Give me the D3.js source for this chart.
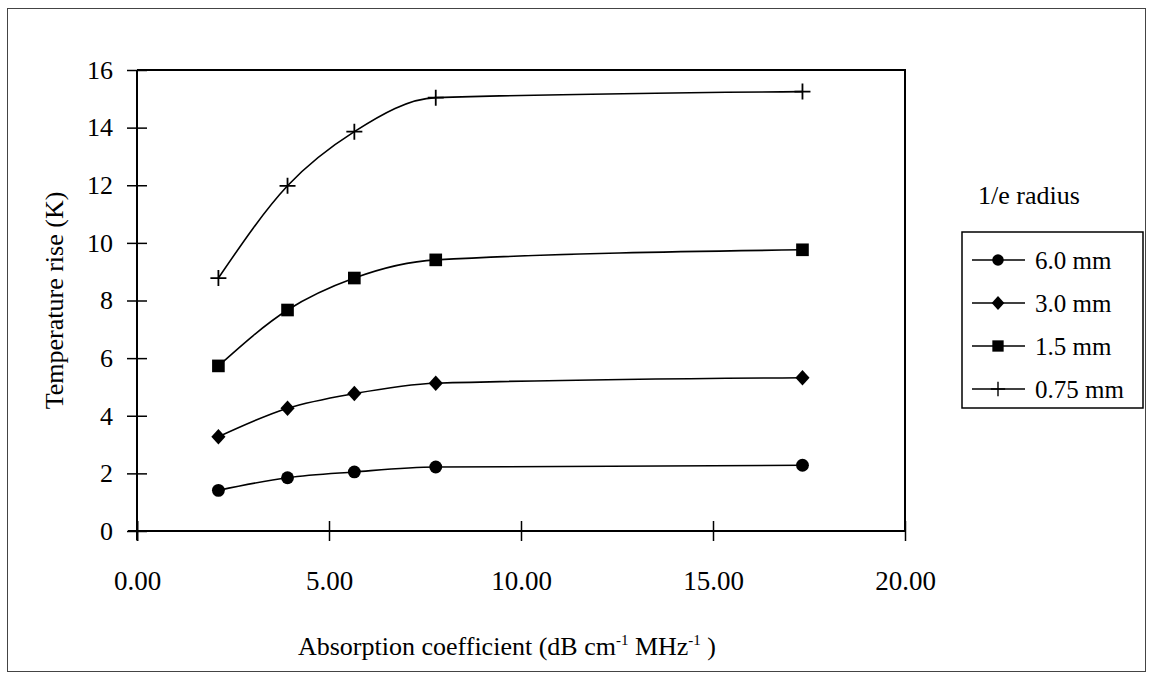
<!DOCTYPE html>
<html lang="en">
<head>
  <meta charset="UTF-8">
  <title>Temperature rise</title>
  <script src="https://d3js.org/d3.v7.min.js"></script>
  <style>
    body {
      margin: 0;
      background: #fff;
    }

    svg {
      display: block;
    }

    svg text {
      font-family: "Liberation Serif", "Times New Roman", "DejaVu Serif", serif;
      fill: #000;
    }
  </style>
</head>
<body>
  <svg width="1152" height="679"></svg>

  <script>
    // values
    const absorption = [2.12, 3.92, 5.66, 7.78, 17.33];
    const radius60 = [1.41, 1.85, 2.05, 2.22, 2.28];
    const radius30 = [3.27, 4.26, 4.77, 5.13, 5.32];
    const radius15 = [5.73, 7.67, 8.78, 9.41, 9.76];
    const radius075 = [8.78, 11.98, 13.86, 15.04, 15.25];
    const seriesNames = [`6.0 mm`, `3.0 mm`, `1.5 mm`, `0.75 mm`];
    const xTicks = [0, 5, 10, 15, 20];
    const yTicks = [0, 2, 4, 6, 8, 10, 12, 14, 16];

    const margin = {top: 70, right: 247, bottom: 148, left: 137};
    const width = 1152;
    const height = 679;

    // custom marker shapes
    const diamond = {
      draw(ctx, size) {
        const r = Math.sqrt(size) / 2;
        ctx.moveTo(0, -r * 1.1);
        ctx.lineTo(r, 0);
        ctx.lineTo(0, r * 1.1);
        ctx.lineTo(-r, 0);
        ctx.closePath();
      }
    };
    const plus = {
      draw(ctx, size) {
        const r = Math.sqrt(size) / 2;
        ctx.moveTo(-r, 0);
        ctx.lineTo(r, 0);
        ctx.moveTo(0, -r);
        ctx.lineTo(0, r);
      }
    };

    const series = [
      {name: seriesNames[0], values: radius60, shape: d3.symbolCircle, size: 130, filled: true},
      {name: seriesNames[1], values: radius30, shape: diamond, size: 200, filled: true},
      {name: seriesNames[2], values: radius15, shape: d3.symbolSquare, size: 160, filled: true},
      {name: seriesNames[3], values: radius075, shape: plus, size: 256, filled: false},
    ];

    const xScale = d3.scaleLinear()
      .domain([0, 20])
      .range([margin.left, width - margin.right]);

    const yScale = d3.scaleLinear()
      .domain([0, 16])
      .range([height - margin.bottom, margin.top]);

    const svg = d3.select(`svg`);

    // outer frame
    svg.append(`rect`)
      .attr(`x`, 7.5)
      .attr(`y`, 8.5)
      .attr(`width`, 1138)
      .attr(`height`, 663)
      .attr(`fill`, `none`)
      .attr(`stroke`, `#444`)
      .attr(`stroke-width`, 1);

    // plot box (top and right edges)
    svg.append(`path`)
      .attr(`d`, `M${xScale(0)},${yScale(16)}H${xScale(20)}V${yScale(0)}`)
      .attr(`fill`, `none`)
      .attr(`stroke`, `#000`)
      .attr(`stroke-width`, 2);

    const xAxis = d3.axisBottom(xScale)
      .tickValues(xTicks)
      .tickFormat(d3.format(`.2f`))
      .tickSizeInner(0)
      .tickSizeOuter(0)
      .tickPadding(40);

    const yAxis = d3.axisLeft(yScale)
      .tickValues(yTicks)
      .tickFormat(d3.format(`d`))
      .tickSizeInner(0)
      .tickSizeOuter(0)
      .tickPadding(24);

    const gx = svg.append(`g`)
      .attr(`transform`, `translate(0, ${yScale(0)})`)
      .call(xAxis);

    const gy = svg.append(`g`)
      .attr(`transform`, `translate(${xScale(0)}, 0)`)
      .call(yAxis);

    gx.attr(`font-family`, null).attr(`font-size`, 27);
    gy.attr(`font-family`, null).attr(`font-size`, 26);
    [gx, gy].forEach(g => {
      g.select(`.domain`).attr(`stroke`, `#000`).attr(`stroke-width`, 2);
      g.selectAll(`text`).attr(`fill`, `#000`);
    });

    // crossing tick marks
    gx.selectAll(`.tick`).append(`line`)
      .attr(`y1`, -10)
      .attr(`y2`, 10)
      .attr(`stroke`, `#000`)
      .attr(`stroke-width`, d => d === 0 ? 2 : 1.5);
    gy.selectAll(`.tick`).append(`line`)
      .attr(`x1`, -10)
      .attr(`x2`, 10)
      .attr(`stroke`, `#000`)
      .attr(`stroke-width`, 1.5);

    // extend axis lines past the origin
    gx.select(`.domain`).attr(`d`, `M${xScale(0) - 9},0H${xScale(20)}`);
    gy.select(`.domain`).attr(`d`, `M0,${yScale(16)}V${yScale(0) + 9}`);

    // lines and markers
    const line = d3.line()
      .x((d, i) => xScale(absorption[i]))
      .y(d => yScale(d))
      .curve(d3.curveMonotoneX);

    series.forEach(s => {
      svg.append(`path`)
        .attr(`d`, line(s.values))
        .attr(`fill`, `none`)
        .attr(`stroke`, `#000`)
        .attr(`stroke-width`, 1.6);

      const sym = d3.symbol().type(s.shape).size(s.size);
      svg.append(`g`).selectAll(`path`)
        .data(s.values)
        .join(`path`)
        .attr(`transform`, (d, i) => `translate(${xScale(absorption[i])}, ${yScale(d)})`)
        .attr(`d`, sym)
        .attr(`fill`, s.filled ? `#000` : `none`)
        .attr(`stroke`, `#000`)
        .attr(`stroke-width`, s.filled ? 0 : 1.8);
    });

    // axis titles
    svg.append(`text`)
      .attr(`transform`, `translate(63, ${(yScale(0) + yScale(16)) / 2}) rotate(-90)`)
      .attr(`text-anchor`, `middle`)
      .attr(`font-size`, 26)
      .text(`Temperature rise (K)`);

    const xTitle = svg.append(`text`)
      .attr(`x`, 507)
      .attr(`y`, 655)
      .attr(`text-anchor`, `middle`)
      .attr(`font-size`, 26);
    xTitle.append(`tspan`).text(`Absorption coefficient (dB cm`);
    xTitle.append(`tspan`).attr(`dy`, -10).attr(`font-size`, 15).text(`-1`);
    xTitle.append(`tspan`).attr(`dy`, 10).text(` MHz`);
    xTitle.append(`tspan`).attr(`dy`, -10).attr(`font-size`, 15).text(`-1`);
    xTitle.append(`tspan`).attr(`dy`, 10).text(` )`);

    // legend
    const legendX = 962;
    const legendY = 232;
    const rowGap = 43;

    svg.append(`text`)
      .attr(`x`, 978)
      .attr(`y`, 204)
      .attr(`font-size`, 26)
      .text(`1/e radius`);

    svg.append(`rect`)
      .attr(`x`, legendX)
      .attr(`y`, legendY)
      .attr(`width`, 181)
      .attr(`height`, 176)
      .attr(`fill`, `#fff`)
      .attr(`stroke`, `#000`)
      .attr(`stroke-width`, 1.5);

    const rows = svg.append(`g`).selectAll(`g`)
      .data(series)
      .join(`g`)
      .attr(`transform`, (d, i) => `translate(${legendX}, ${legendY + 28 + i * rowGap})`);

    rows.append(`line`)
      .attr(`x1`, 10)
      .attr(`x2`, 63)
      .attr(`stroke`, `#000`)
      .attr(`stroke-width`, 1.4);

    rows.append(`path`)
      .attr(`transform`, `translate(36, 0)`)
      .attr(`d`, d => d3.symbol().type(d.shape).size(d.size * 0.8)())
      .attr(`fill`, d => d.filled ? `#000` : `none`)
      .attr(`stroke`, `#000`)
      .attr(`stroke-width`, d => d.filled ? 0 : 1.4);

    rows.append(`text`)
      .attr(`x`, 73)
      .attr(`dy`, `0.35em`)
      .attr(`font-size`, 25)
      .text(d => d.name);
  </script>
</body>
</html>
